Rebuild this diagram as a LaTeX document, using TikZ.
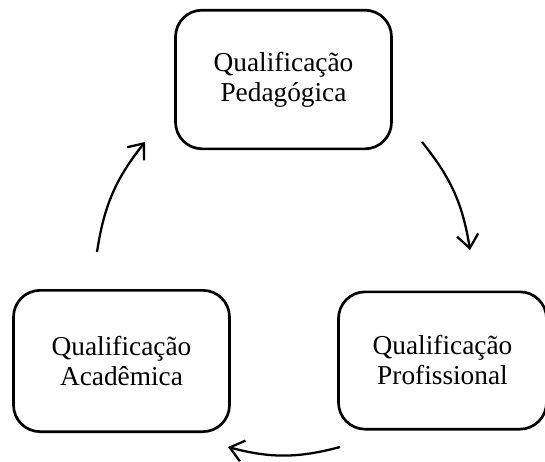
\documentclass[tikz,border=0pt]{standalone}
\usepackage{fontspec}
\setmainfont{Liberation Serif}
\usetikzlibrary{arrows.meta}

\begin{document}
\begin{tikzpicture}[x=0.75pt,y=-0.75pt]
\tikzset{qbox/.style={draw,line width=2pt,rounded corners=20pt,align=center,
    font=\fontsize{20.5}{22.5}\selectfont,minimum width=162pt,minimum height=104pt},
  cyc/.style={-{Straight Barb[length=10pt,width=16pt]},line width=1.7pt,bend left=15}}
\useasboundingbox (0,0) rectangle (545,461);

% the three boxes
\node[qbox] (ped) at (283.5,79.5) {Qualificação\\Pedagógica};
\node[qbox,minimum height=106pt] (aca) at (121.5,361) {Qualificação\\Acadêmica};
\node[qbox,minimum width=156pt,minimum height=103pt] (pro) at (442.5,360.5) {Qualificação\\Profissional};

% cycle arrows
\coordinate (pedout) at (422,142);
\coordinate (proin) at (470,250);
\coordinate (proout) at (340,447);
\coordinate (acain) at (228,447);
\coordinate (acaout) at (97,252);
\coordinate (pedin) at (145,142);
\draw[cyc] (pedout) to (proin);
\draw[cyc] (proout) to (acain);
\draw[cyc] (acaout) to (pedin);
\end{tikzpicture}
\end{document}
